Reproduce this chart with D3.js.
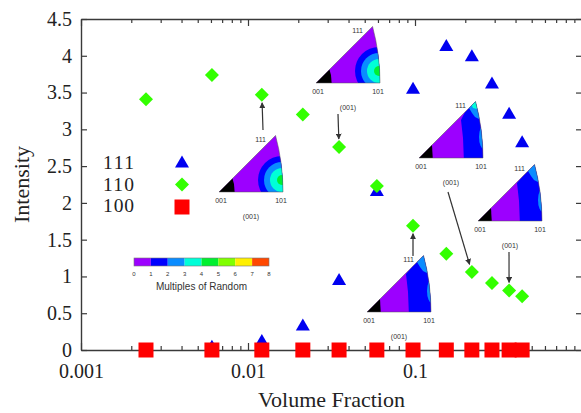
<!DOCTYPE html>
<html>
<head>
<meta charset="utf-8">
<script src="https://cdn.jsdelivr.net/npm/d3@7"></script>
<style>
  body { margin: 0; background: #fff; }
  svg { display: block; }
  .serif { font-family: "Liberation Serif", "Times New Roman", serif; }
  .sans { font-family: "Liberation Sans", Arial, sans-serif; }
</style>
</head>
<body>
<div class="chart"></div>
<script>
// values
const volumeFraction = [0.00245, 0.00608, 0.0121, 0.0213, 0.0351, 0.0591, 0.0973, 0.154, 0.219, 0.289, 0.366, 0.438];
const intensity111 = [0, 0.05, 0.13, 0.34, 0.96, 2.17, 3.56, 4.14, 4.0, 3.63, 3.22, 2.83];
const intensity110 = [3.41, 3.74, 3.47, 3.20, 2.76, 2.23, 1.69, 1.31, 1.06, 0.91, 0.81, 0.73];
const intensity100 = [0, 0, 0, 0, 0, 0, 0, 0, 0, 0, 0, 0];
const seriesNames = ['111', '110', '100'];
const yTicks = [0, 0.5, 1, 1.5, 2, 2.5, 3, 3.5, 4, 4.5];
const xLabels = [0.001, 0.01, 0.1];
const mrdLabels = [0, 1, 2, 3, 4, 5, 6, 7, 8];
const mrdColors = ['#9c00ff', '#0000ff', '#0a8cff', '#00ffd8', '#00f030', '#80ff00', '#fff000', '#ff4800'];

const width = 581, height = 413;
const plotL = 81, plotR = 582, plotT = 19, plotB = 350;

const svg = d3.select('.chart').append('svg')
  .attr('width', width)
  .attr('height', height);

const x = d3.scaleLog().domain([0.001, 1]).range([plotL, plotR]);
const y = d3.scaleLinear().domain([0, 4.5]).range([plotB, plotT]);

// minor + major ticks for the log axis
let logTicks = [];
for (let e = -3; e < 0; e++) {
  for (let m = 1; m <= 9; m++) logTicks.push(m * Math.pow(10, e));
}
logTicks.push(1);
const isMajor = d => Math.abs(Math.log10(d) - Math.round(Math.log10(d))) < 1e-9;

const axisColor = '#3a3a3a';

const gx = svg.append('g')
  .attr('transform', `translate(0,${plotB})`)
  .call(d3.axisBottom(x).tickValues(logTicks).tickSizeInner(-4).tickSizeOuter(0).tickPadding(14)
    .tickFormat(d => xLabels.some(v => Math.abs(v - d) < 1e-9) ? d3.format('')(d) : ''));
gx.selectAll('.tick line').filter(d => isMajor(d)).attr('y2', -7);

const gxt = svg.append('g')
  .attr('transform', `translate(0,${plotT})`)
  .call(d3.axisTop(x).tickValues(logTicks).tickSizeInner(-4).tickSizeOuter(0).tickFormat(''));
gxt.selectAll('.tick line').filter(d => isMajor(d)).attr('y2', 7);

const gy = svg.append('g')
  .attr('transform', `translate(${plotL},0)`)
  .call(d3.axisLeft(y).tickValues(yTicks).tickSizeInner(-6).tickSizeOuter(0).tickPadding(9).tickFormat(d => d));

const gyr = svg.append('g')
  .attr('transform', `translate(${plotR},0)`)
  .call(d3.axisRight(y).tickValues(yTicks).tickSizeInner(-6).tickSizeOuter(0).tickFormat(''));

[gx, gxt, gy, gyr].forEach(g => {
  g.select('.domain').attr('stroke', axisColor).attr('stroke-width', 1.4);
  g.selectAll('.tick line').attr('stroke', axisColor).attr('stroke-width', 1.2);
  g.selectAll('.tick text')
    .attr('class', 'serif')
    .attr('font-size', 20)
    .attr('fill', '#222');
});

svg.append('text')
  .attr('class', 'serif')
  .attr('x', (plotL + plotR) / 2)
  .attr('y', 407)
  .attr('text-anchor', 'middle')
  .attr('font-size', 22)
  .attr('fill', '#222')
  .text('Volume Fraction');

svg.append('text')
  .attr('class', 'serif')
  .attr('transform', `translate(29,${(plotT + plotB) / 2}) rotate(-90)`)
  .attr('text-anchor', 'middle')
  .attr('font-size', 22)
  .attr('fill', '#222')
  .text('Intensity');

// ---- inverse pole figure insets ----
const W = 64;
const s = W / Math.tan(Math.PI / 8);
const apex = [s * (Math.sqrt(3) - 1) / 2, -s * (Math.sqrt(3) - 1) / 2];
const R = s * Math.SQRT2;
const triPath = `M0,0 L${W},0 A${R},${R} 0 0 0 ${apex[0]},${apex[1]} Z`;

const insets = [
  {x0: 316, y0: 83, style: 'A', target: 4, from: [338, 114]},
  {x0: 219, y0: 192, style: 'A', target: 2, from: [263, 130]},
  {x0: 367, y0: 312, style: 'B', target: 6, from: [413, 256]},
  {x0: 419, y0: 158, style: 'C', target: 8, from: [448, 192]},
  {x0: 478, y0: 221, style: 'B', target: 10, from: [509, 252]}
];

const defs = svg.append('defs');
defs.append('marker')
  .attr('id', 'arrowhead')
  .attr('viewBox', '0 0 10 10')
  .attr('refX', 9).attr('refY', 5)
  .attr('markerWidth', 6).attr('markerHeight', 6)
  .attr('markerUnits', 'userSpaceOnUse')
  .attr('orient', 'auto')
  .append('path')
  .attr('d', 'M0,0 L10,5 L0,10 Z')
  .attr('fill', '#333');

const line = d3.line();

insets.forEach((ins, i) => {
  defs.append('clipPath').attr('id', 'tri' + i)
    .append('path').attr('d', triPath);

  const g = svg.append('g').attr('transform', `translate(${ins.x0},${ins.y0})`);
  const c = g.append('g').attr('clip-path', `url(#tri${i})`);
  c.append('rect').attr('x', -5).attr('y', -70).attr('width', 80).attr('height', 80).attr('fill', mrdColors[0]);

  if (ins.style === 'A') {
    const cx = 63, cy = -12;
    [[24, mrdColors[1]], [18, mrdColors[2]], [12, mrdColors[3]], [5, mrdColors[4]]].forEach(([r, col]) => {
      c.append('circle').attr('cx', cx).attr('cy', cy).attr('r', r).attr('fill', col);
    });
    c.append('path').attr('d', line([[-5, 5], [16, 5], [15, -8], [13, -15], [-5, -15]])).attr('fill', '#000');
  } else {
    const edge = ins.style === 'C' ? 45 : 42;
    c.append('path')
      .attr('d', line([[edge, 5], [edge - 1, -20], [edge - 3, -38], [46, -46], [80, -80], [80, 5]]))
      .attr('fill', mrdColors[1]);
    c.append('path')
      .attr('d', line([[44, -58], [50, -50], [53, -45], [56, -41], [60, -39], [80, -38], [80, -80]]))
      .attr('fill', mrdColors[2]);
    c.append('ellipse').attr('cx', 65).attr('cy', -21).attr('rx', 5).attr('ry', 12).attr('fill', mrdColors[2]);
    if (ins.style === 'C') {
      c.append('path')
        .attr('d', line([[50, -58], [54, -50], [58, -49], [62, -58]]))
        .attr('fill', mrdColors[3]);
    }
    c.append('path').attr('d', line([[-5, 5], [14, 5], [13, -13], [-5, -13]])).attr('fill', '#000');
  }
  g.append('path').attr('d', triPath).attr('fill', 'none').attr('stroke', '#555').attr('stroke-width', 0.5);

  const labels = [
    {t: '111', x: 47, y: -50, a: 'end'},
    {t: '001', x: 2, y: 11, a: 'middle'},
    {t: '101', x: 62, y: 11, a: 'middle'},
    {t: '(001)', x: 32, y: 27, a: 'middle'}
  ];
  g.selectAll('text').data(labels).enter().append('text')
    .attr('class', 'sans')
    .attr('x', d => d.x).attr('y', d => d.y)
    .attr('text-anchor', d => d.a)
    .attr('font-size', 7)
    .attr('fill', '#333')
    .text(d => d.t);

  // arrow to the point it describes
  const tx = x(volumeFraction[ins.target]);
  const ty = y(intensity110[ins.target]);
  const dx = tx - ins.from[0], dy = ty - ins.from[1];
  const len = Math.hypot(dx, dy);
  svg.append('line')
    .attr('x1', ins.from[0]).attr('y1', ins.from[1])
    .attr('x2', tx - dx / len * 8).attr('y2', ty - dy / len * 8)
    .attr('stroke', '#333').attr('stroke-width', 1.2)
    .attr('marker-end', 'url(#arrowhead)');
});

// ---- colour bar ----
const cb = d3.scaleLinear().domain([0, 8]).range([134, 269]);
svg.selectAll('rect.mrd')
  .data(mrdColors)
  .enter()
  .append('rect')
  .attr('class', 'mrd')
  .attr('x', (d, i) => cb(i))
  .attr('y', 258)
  .attr('width', (d, i) => cb(i + 1) - cb(i))
  .attr('height', 8)
  .attr('fill', d => d);
svg.append('rect').attr('x', cb(0)).attr('y', 258).attr('width', cb(8) - cb(0)).attr('height', 8)
  .attr('fill', 'none').attr('stroke', '#777').attr('stroke-width', 0.6);
svg.selectAll('text.mrd')
  .data(mrdLabels)
  .enter()
  .append('text')
  .attr('class', 'sans')
  .attr('x', d => cb(d))
  .attr('y', 276)
  .attr('text-anchor', 'middle')
  .attr('font-size', 6)
  .attr('fill', '#333')
  .text(d => d);
svg.append('text')
  .attr('class', 'sans')
  .attr('x', cb(4))
  .attr('y', 290)
  .attr('text-anchor', 'middle')
  .attr('font-size', 10)
  .attr('fill', '#333')
  .text('Multiples of Random');

// ---- markers ----
const triangle = 'M0,-6.5 L7,5.5 L-7,5.5 Z';
const diamond = 'M0,-7 L7,0 L0,7 L-7,0 Z';
const square = 'M-7.5,-7.5 H7.5 V7.5 H-7.5 Z';
const series = [
  {values: intensity111, shape: triangle, color: '#0000f0'},
  {values: intensity110, shape: diamond, color: '#33ff00'},
  {values: intensity100, shape: square, color: '#ff0000'}
];

series.forEach(sr => {
  svg.append('g').selectAll('path')
    .data(volumeFraction)
    .enter()
    .append('path')
    .attr('d', sr.shape)
    .attr('transform', (d, i) => `translate(${x(d)},${y(sr.values[i])})`)
    .attr('fill', sr.color);
});

// ---- legend ----
const legend = svg.append('g');
legend.selectAll('text')
  .data(seriesNames)
  .enter()
  .append('text')
  .attr('class', 'serif')
  .attr('x', 103)
  .attr('y', (d, i) => 169 + i * 21.7)
  .attr('font-size', 19.5)
  .attr('textLength', 31)
  .attr('fill', '#222')
  .text(d => d);
legend.selectAll('path')
  .data(series)
  .enter()
  .append('path')
  .attr('d', d => d.shape)
  .attr('transform', (d, i) => `translate(182,${162 + i * 22.5})`)
  .attr('fill', d => d.color);
</script>
</body>
</html>
